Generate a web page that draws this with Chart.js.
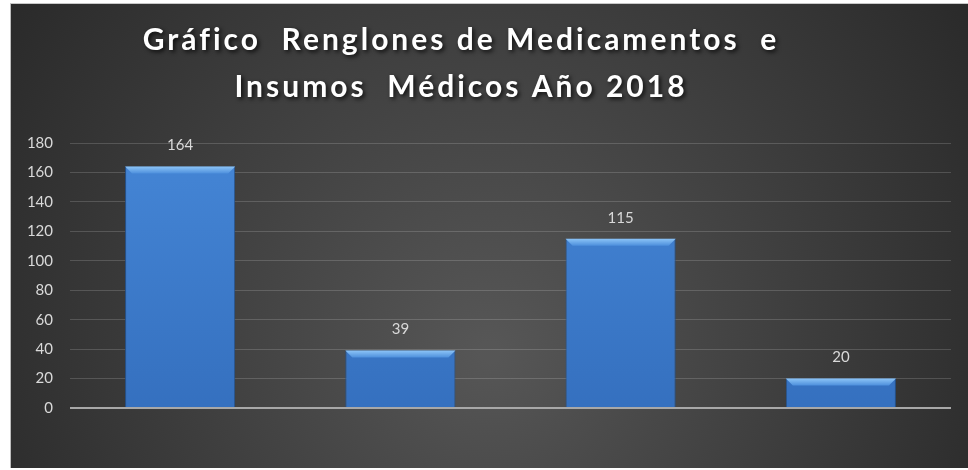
<!DOCTYPE html>
<html>
<head>
<meta charset="utf-8">
<script src="https://cdn.jsdelivr.net/npm/chart.js@4"></script>
<style>
  body { margin: 0; background: #ffffff; width: 968px; height: 470px; overflow: hidden; }
  #wrap { position: absolute; left: 10px; top: 3px; width: 958px; height: 464px;
          border-left: 1px solid #bdbdbd; border-top: 1px solid #c8c8c8; }
</style>
</head>
<body>
<div id="wrap"><canvas id="chart"></canvas></div>
<script>
// Chart data
const categories = ['A', 'B', 'C', 'D'];
const values = [164, 39, 115, 20];
const titleLines = ['Gráfico  Renglones de Medicamentos  e', 'Insumos  Médicos Año 2018'];
const yTicks = [0, 20, 40, 60, 80, 100, 120, 140, 160, 180];

// Dark radial background
const backgroundPlugin = {
    id: 'bg',
    beforeDraw(chart) {
        const c = chart.ctx;
        const w = chart.width, h = chart.height;
        const g = c.createRadialGradient(w * 0.5, h * 0.75, 10, w * 0.5, h * 0.6, w * 0.62);
        g.addColorStop(0, '#565656');
        g.addColorStop(1, '#272727');
        c.save();
        c.fillStyle = g;
        c.fillRect(0, 0, w, h);
        c.restore();
    }
};

// Title drawn a little left of centre like the original
const titlePlugin = {
    id: 'bigTitle',
    afterDraw(chart) {
        const c = chart.ctx;
        c.save();
        c.font = 'bold 30px Lato';
        c.letterSpacing = '3px';
        c.fillStyle = '#ffffff';
        c.textAlign = 'center';
        c.textBaseline = 'middle';
        c.shadowColor = 'rgba(0,0,0,0.8)';
        c.shadowBlur = 4;
        c.shadowOffsetX = 2;
        c.shadowOffsetY = 2;
        c.fillText(titleLines[0], 450, 36);
        c.fillText(titleLines[1], 450, 83);
        c.restore();
    }
};

// Bevel on bar tops + value labels above each bar
const barDecor = {
    id: 'barDecor',
    afterDatasetsDraw(chart) {
        const c = chart.ctx;
        const meta = chart.getDatasetMeta(0);
        c.save();
        meta.data.forEach((bar) => {
            const l = bar.x - bar.width / 2, r = bar.x + bar.width / 2, t = bar.y;
            const g = c.createLinearGradient(0, t, 0, t + 7);
            g.addColorStop(0, '#8cc4f7');
            g.addColorStop(1, '#4d8fdc');
            c.fillStyle = g;
            c.beginPath();
            c.moveTo(l, t);
            c.lineTo(r, t);
            c.lineTo(r - 7, t + 7);
            c.lineTo(l + 7, t + 7);
            c.closePath();
            c.fill();
        });
        c.font = '15px Lato';
        c.fillStyle = '#d9d9d9';
        c.textAlign = 'center';
        c.textBaseline = 'middle';
        meta.data.forEach((bar, i) => {
            c.fillText(values[i], bar.x, bar.y - 21);
        });
        c.restore();
    }
};

const ctx = document.getElementById('chart').getContext('2d');
const barFill = ctx.createLinearGradient(0, 140, 0, 405);
barFill.addColorStop(0, '#4586d6');
barFill.addColorStop(1, '#3570bf');

new Chart(ctx, {
    type: 'bar',
    data: {
        labels: categories,
        datasets: [{
            data: values,
            backgroundColor: barFill,
            borderColor: '#24538f',
            borderWidth: { top: 0, left: 1, right: 1, bottom: 0 },
            borderSkipped: false,
            barPercentage: 0.5,
            categoryPercentage: 1.0
        }]
    },
    options: {
        responsive: true,
        maintainAspectRatio: false,
        animation: false,
        layout: { padding: { top: 139, bottom: 60, right: 18, left: 0 } },
        plugins: {
            legend: { display: false },
            title: { display: false },
            tooltip: { enabled: false }
        },
        scales: {
            x: { display: false },
            y: {
                min: 0,
                max: 180,
                afterBuildTicks(scale) {
                    scale.ticks = yTicks.map(v => ({ value: v }));
                },
                afterFit(scale) { scale.width = 59; },
                border: { display: false },
                grid: {
                    drawTicks: false,
                    color: c => c.tick && c.tick.value === 0 ? '#a8a8a8' : 'rgba(255,255,255,0.16)',
                    lineWidth: c => c.tick && c.tick.value === 0 ? 2 : 1
                },
                ticks: {
                    padding: 17,
                    color: '#d9d9d9',
                    font: { family: 'Lato', size: 15 }
                }
            }
        }
    },
    plugins: [backgroundPlugin, barDecor, titlePlugin]
});
</script>
</body>
</html>
